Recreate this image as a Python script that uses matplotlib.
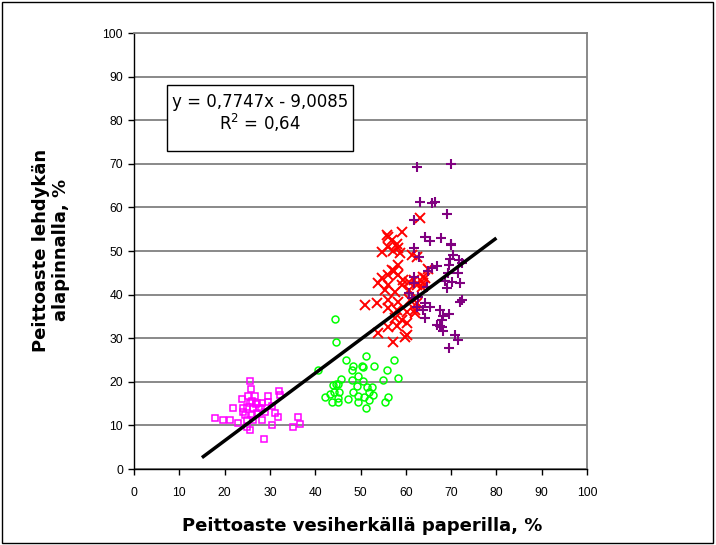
import matplotlib
matplotlib.use("Agg")
import matplotlib.pyplot as plt
import numpy as np
from matplotlib.patches import Rectangle

plt.rcParams['font.family'] = ['Liberation Sans', 'DejaVu Sans']

# Magenta squares
sq_x = [25.5, 25.8, 25.2, 26.7, 29.6, 32.0, 32.2, 23.9, 25.6, 27.1, 28.3, 29.6,
        21.9, 24.1, 26.3, 27.7, 30.4, 24.5, 26.0, 27.1, 31.1, 31.7, 17.9, 19.6,
        21.2, 23.0, 24.9, 26.3, 28.2, 30.4, 24.9, 25.5, 36.3, 36.6, 35.0, 28.8,
        28.0, 27.0, 29.0, 25.0, 24.0, 26.0]
sq_y = [20.2, 18.3, 16.7, 16.7, 16.7, 18.0, 17.0, 16.0, 15.2, 15.2, 15.2, 15.4,
        13.9, 13.9, 13.9, 13.9, 14.4, 12.5, 12.5, 12.8, 12.8, 12.0, 11.6, 11.2,
        11.2, 10.5, 11.2, 11.2, 11.2, 10.2, 9.7, 8.9, 12.0, 10.3, 9.6, 6.9,
        14.0, 15.0, 13.0, 14.2, 13.0, 15.6]

# Green circles
ci_x = [44.4, 44.7, 40.7, 46.7, 51.2, 57.5, 48.4, 50.3, 50.6, 53.0, 48.1, 55.8,
        45.7, 48.1, 49.4, 50.6, 54.9, 58.2, 44.0, 45.1, 49.2, 51.4, 52.5, 44.2,
        45.3, 48.4, 51.9, 52.8, 42.2, 45.1, 49.5, 50.8, 56.1, 43.6, 45.1, 47.3,
        49.5, 51.9, 55.4, 51.2, 43.3, 44.7]
ci_y = [34.4, 29.1, 22.7, 25.0, 26.0, 25.0, 23.6, 23.6, 23.3, 23.6, 22.7, 22.7,
        20.6, 20.4, 21.3, 20.2, 20.3, 20.9, 19.3, 19.4, 19.0, 18.9, 18.7, 17.6,
        17.6, 17.6, 17.6, 17.0, 16.4, 16.2, 16.8, 16.6, 16.4, 15.4, 15.4, 16.0,
        15.4, 15.8, 15.4, 13.9, 17.2, 19.5]

# Red crosses
x_x = [59.1, 56.0, 56.9, 58.0, 56.1, 58.3, 57.2, 54.7, 58.7, 61.3, 58.3, 56.9,
       57.5, 56.1, 58.2, 54.7, 59.4, 60.6, 61.7, 64.2, 53.9, 56.1, 59.1, 62.4,
       55.4, 57.6, 60.6, 63.5, 51.0, 53.6, 56.1, 58.3, 60.9, 56.1, 58.0, 60.2,
       62.0, 57.6, 59.1, 56.1, 58.0, 53.9, 60.2, 57.2, 65.0, 55.8, 63.1, 62.4,
       63.9, 63.9, 62.0, 60.2, 59.8, 62.4]
x_y = [54.4, 53.3, 52.5, 51.6, 51.0, 50.6, 50.1, 49.8, 49.6, 49.1, 46.8, 45.6,
       45.5, 44.5, 44.5, 43.7, 43.3, 43.0, 43.3, 43.7, 42.6, 42.2, 42.2, 42.2,
       41.1, 40.7, 41.1, 41.8, 37.6, 38.0, 38.8, 38.4, 38.8, 36.9, 36.5, 36.1,
       36.5, 34.6, 34.2, 32.6, 32.8, 31.1, 30.7, 29.2, 45.8, 53.7, 57.5, 48.7,
       44.1, 42.6, 35.7, 33.4, 30.3, 38.0]

# Purple plus signs
pl_x = [62.5, 69.9, 63.1, 65.7, 66.4, 69.0, 61.7, 64.2, 65.3, 67.7, 70.0, 61.7,
        69.9, 70.5, 69.8, 71.8, 72.3, 69.6, 66.8, 65.7, 65.0, 71.6, 69.4, 61.7,
        70.1, 72.0, 68.7, 69.0, 64.6, 61.7, 60.6, 62.8, 61.3, 72.0, 72.3, 64.2,
        65.3, 62.4, 67.5, 63.9, 69.6, 68.3, 64.2, 68.1, 66.8, 67.5, 67.9, 68.3,
        70.9, 71.6, 69.6, 62.9]
pl_y = [69.2, 70.0, 61.2, 60.9, 61.2, 58.5, 57.1, 53.1, 52.4, 52.9, 51.6, 50.6,
        51.4, 49.1, 48.1, 47.9, 47.2, 46.8, 46.6, 46.0, 45.3, 45.0, 44.9, 44.1,
        43.0, 42.7, 43.1, 41.4, 41.8, 42.6, 40.3, 39.5, 39.2, 38.4, 38.8, 38.0,
        37.2, 37.2, 36.5, 36.5, 35.6, 35.1, 34.6, 34.2, 33.0, 32.8, 32.5, 31.7,
        30.7, 29.7, 27.7, 48.7]

# Linear fit shown in the box
slope = 0.7747
intercept = -9.0085
fit_range = [15, 80]
x_ticks = list(range(0, 101, 10))
y_ticks = list(range(0, 101, 10))

fig = plt.figure(figsize=(7.16, 5.45), dpi=100)
ax = fig.add_axes([134/716, 1 - 469/545, (587 - 134)/716, (469 - 33)/545])

ax.set_xlim(0, 100)
ax.set_ylim(0, 100)
ax.set_xticks(x_ticks)
ax.set_yticks(y_ticks)
ax.tick_params(direction='out', length=4, width=1, labelsize=8.7, color='black')
ax.tick_params(axis='x', pad=9)
ax.tick_params(axis='y', pad=4)
ax.yaxis.grid(True, color='#808080', linewidth=1.3)
ax.set_axisbelow(True)
for side in ('top', 'right'):
    ax.spines[side].set_color('#808080')
    ax.spines[side].set_linewidth(1.3)
for side in ('left', 'bottom'):
    ax.spines[side].set_color('black')
    ax.spines[side].set_linewidth(1.0)

ax.plot(sq_x, sq_y, linestyle='none', marker='s', ms=5.0, mfc='none',
        mec='#FF00FF', mew=1.1)
ax.plot(ci_x, ci_y, linestyle='none', marker='o', ms=5.0, mfc='none',
        mec='#00FF00', mew=1.1)
ax.plot(x_x, x_y, linestyle='none', marker='x', ms=7.3, mec='#FF0000', mew=1.4)
ax.plot(pl_x, pl_y, linestyle='none', marker='+', ms=7.5, mec='#800080', mew=1.5)

fx = np.array(fit_range, dtype=float)
ax.plot(fx, slope * fx + intercept, color='black', linewidth=2.5,
        solid_capstyle='butt')

# Equation box
ax.add_patch(Rectangle((7.3, 72.9), 41.0, 15.2, fill=True, facecolor='white',
                       edgecolor='black', linewidth=1.0, zorder=5))
ax.text(27.8, 84.2, "y = 0,7747x - 9,0085", ha='center', va='center',
        fontsize=12, family=['DejaVu Sans'], zorder=6)
ax.text(27.8, 79.4, "R$^2$ = 0,64", ha='center', va='center',
        fontsize=12, family=['DejaVu Sans'], zorder=6)

label_font = dict(fontsize=13, fontweight='bold', family=['DejaVu Sans'])
fig.text(362/716, 1 - 526/545, 'Peittoaste vesiherkällä paperilla, %',
         ha='center', va='center', **label_font)
fig.text(51/716, 1 - 250/545, 'Peittoaste lehdykän\nalapinnalla, %',
         ha='center', va='center', rotation=90, linespacing=1.2,
         multialignment='center', **label_font)

fig.patches.append(Rectangle((2/716, 2/545), 711/716, 541/545, fill=False,
                             edgecolor='black', linewidth=1.0,
                             transform=fig.transFigure, figure=fig))

fig.savefig('out.png', dpi=100)
